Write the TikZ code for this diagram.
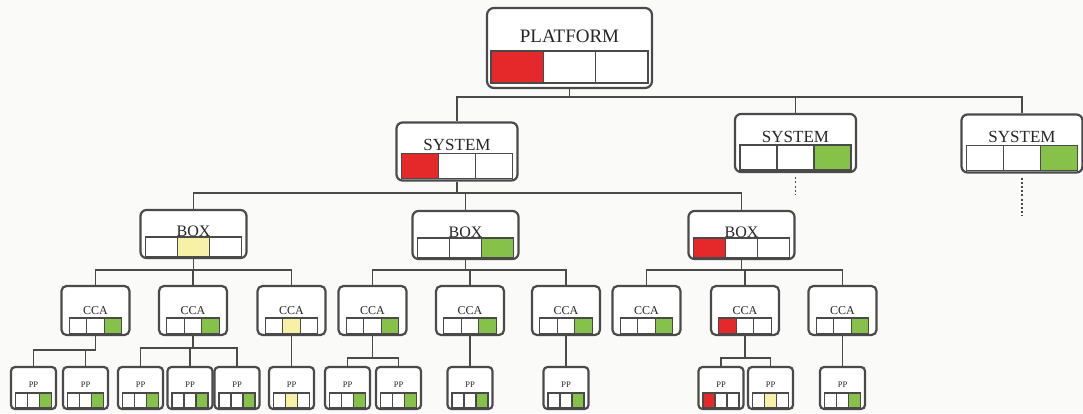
\documentclass[tikz,border=0pt]{standalone}
\usepackage{fontspec}
\setmainfont{Liberation Serif}
\usetikzlibrary{calc}
\definecolor{tred}{HTML}{E5282A}
\definecolor{tgreen}{HTML}{86C24A}
\definecolor{tyellow}{HTML}{F6F1A6}
\definecolor{tline}{HTML}{4A4A4A}
\definecolor{ttext}{HTML}{262626}
\definecolor{tbg}{HTML}{FAFAF8}
% level parameters: width, height, cell width, cell height, cell bottom margin, font size, label offset, corner radius
\def\wP{165}\def\hP{80}\def\cwP{52.3}\def\chP{32}\def\cbP{6}\def\fP{19}\def\loP{9}\def\rP{7}
\def\wS{121}\def\hS{58}\def\cwS{37}\def\chS{25}\def\cbS{3}\def\fS{17}\def\loS{3}\def\rS{6}
\def\wB{106}\def\hB{48}\def\cwB{32}\def\chB{20}\def\cbB{2}\def\fB{16}\def\loB{0.5}\def\rB{6}
\def\wC{68}\def\hC{49}\def\cwC{17.5}\def\chC{16}\def\cbC{2}\def\fC{12}\def\loC{4}\def\rC{5}
\def\wF{45}\def\hF{42}\def\cwF{12}\def\chF{15}\def\cbF{2}\def\fF{8.5}\def\loF{6}\def\rF{4}
\tikzset{
  tbox/.style={draw=tline, line width=2.2pt, fill=white, inner sep=0pt},
  tcell/.style={draw=tline, line width=1.4pt},
  tlbl/.style={text=ttext, inner sep=0pt, anchor=base},
  conn/.style={draw=tline, line width=1.9pt},
  dotconn/.style={draw=tline, line width=1.9pt, dash pattern=on 2pt off 2.2pt},
}
% name, cx, cy, level, label, colour1, colour2, colour3
\newcommand\tnode[8]{%
  \edef\Nw{\csname w#4\endcsname}\edef\Nh{\csname h#4\endcsname}%
  \edef\Ncw{\csname cw#4\endcsname}\edef\Nch{\csname ch#4\endcsname}%
  \edef\Ncb{\csname cb#4\endcsname}\edef\Nf{\csname f#4\endcsname}%
  \edef\Nlo{\csname lo#4\endcsname}\edef\Nr{\csname r#4\endcsname}%
  \node[tbox, minimum width=\Nw pt, minimum height=\Nh pt, rounded corners=\Nr pt] (#1) at (#2,#3) {};
  \foreach \i/\c in {0/#6,1/#7,2/#8} {
    \draw[tcell, fill=\c] ([xshift={(\i-1.5)*\Ncw pt}, yshift=\Ncb pt]#1.south) rectangle ++(\Ncw, -\Nch);
  }
  \node[tlbl, font=\fontsize{\Nf}{\Nf}\selectfont] (#1-l) at ([yshift=\Ncb pt+\Nch pt+\Nlo pt]#1.south) {#5};
}
\begin{document}
\begin{tikzpicture}[x=1pt, y=-1pt]
\fill[tbg] (0,0) rectangle (1083,413);
\useasboundingbox (0,0) rectangle (1083,413);
% bus coordinates
\coordinate (busP) at (0,97);
\coordinate (busS) at (0,193);
\coordinate (busB) at (0,270);
\coordinate (busC1) at (0,350);
\coordinate (busC2) at (0,348);
\coordinate (busC4) at (0,358);
\coordinate (busC8) at (0,358);
\coordinate (dotS2) at (795.5,195);
\coordinate (dotS3) at (1022,216);

% ---- nodes ----
\tnode{P}{569.5}{48}{P}{PLATFORM}{tred}{white}{white}
\tnode{S1}{457}{151.5}{S}{SYSTEM}{tred}{white}{white}
\tnode{S2}{795.5}{143}{S}{SYSTEM}{white}{white}{tgreen}
\tnode{S3}{1022}{143.5}{S}{SYSTEM}{white}{white}{tgreen}
\tnode{B1}{193.5}{234}{B}{BOX}{white}{tyellow}{white}
\tnode{B2}{465.5}{235}{B}{BOX}{white}{white}{tgreen}
\tnode{B3}{741.5}{235}{B}{BOX}{tred}{white}{white}
\tnode{C1}{95.5}{310.5}{C}{CCA}{white}{white}{tgreen}
\tnode{C2}{193}{310.5}{C}{CCA}{white}{white}{tgreen}
\tnode{C3}{291.5}{310.5}{C}{CCA}{white}{tyellow}{white}
\tnode{C4}{372.5}{310.5}{C}{CCA}{white}{white}{tgreen}
\tnode{C5}{470}{310.5}{C}{CCA}{white}{white}{tgreen}
\tnode{C6}{566}{310.5}{C}{CCA}{white}{white}{tgreen}
\tnode{C7}{646.5}{310.5}{C}{CCA}{white}{white}{tgreen}
\tnode{C8}{745}{310.5}{C}{CCA}{tred}{white}{white}
\tnode{C9}{842.5}{310.5}{C}{CCA}{white}{white}{tgreen}
\tnode{F1}{33.5}{388}{F}{PP}{white}{white}{tgreen}
\tnode{F2}{85.5}{388}{F}{PP}{white}{white}{tgreen}
\tnode{F3}{140.5}{388}{F}{PP}{white}{white}{tgreen}
\tnode{F4}{190}{388}{F}{PP}{white}{white}{tgreen}
\tnode{F5}{237}{388}{F}{PP}{white}{white}{tgreen}
\tnode{F6}{291.5}{388}{F}{PP}{white}{tyellow}{white}
\tnode{F7}{347.5}{388}{F}{PP}{white}{white}{tgreen}
\tnode{F8}{398.5}{388}{F}{PP}{white}{white}{tgreen}
\tnode{F9}{470}{388}{F}{PP}{white}{white}{tgreen}
\tnode{F10}{566}{388}{F}{PP}{white}{white}{tgreen}
\tnode{F11}{721}{388}{F}{PP}{tred}{white}{white}
\tnode{F12}{770.5}{388}{F}{PP}{white}{tyellow}{white}
\tnode{F13}{842.5}{388}{F}{PP}{white}{white}{tgreen}

% ---- connectors ----
\foreach \ch in {S1,S2,S3} \draw[conn] (P.south) -- (P.south |- busP) -| (\ch.north);
\foreach \ch in {B1,B2,B3} \draw[conn] (S1.south) -- (S1.south |- busS) -| (\ch.north);
\foreach \ch in {C1,C2,C3} \draw[conn] (B1.south) -- (B1.south |- busB) -| (\ch.north);
\foreach \ch in {C4,C5,C6} \draw[conn] (B2.south) -- (B2.south |- busB) -| (\ch.north);
\foreach \ch in {C7,C8,C9} \draw[conn] (B3.south) -- (B3.south |- busB) -| (\ch.north);
\foreach \ch in {F1,F2} \draw[conn] (C1.south) -- (C1.south |- busC1) -| (\ch.north);
\foreach \ch in {F3,F4,F5} \draw[conn] (C2.south) -- (C2.south |- busC2) -| (\ch.north);
\foreach \ch in {F7,F8} \draw[conn] (C4.south) -- (C4.south |- busC4) -| (\ch.north);
\foreach \ch in {F11,F12} \draw[conn] (C8.south) -- (C8.south |- busC8) -| (\ch.north);
\draw[conn] (C3.south) -- (F6.north);
\draw[conn] (C5.south) -- (F9.north);
\draw[conn] (C6.south) -- (F10.north);
\draw[conn] (C9.south) -- (F13.north);
\draw[dotconn] ([yshift=-4pt]S2.south) -- (dotS2);
\draw[dotconn] ([yshift=-4pt]S3.south) -- (dotS3);
\end{tikzpicture}
\end{document}
